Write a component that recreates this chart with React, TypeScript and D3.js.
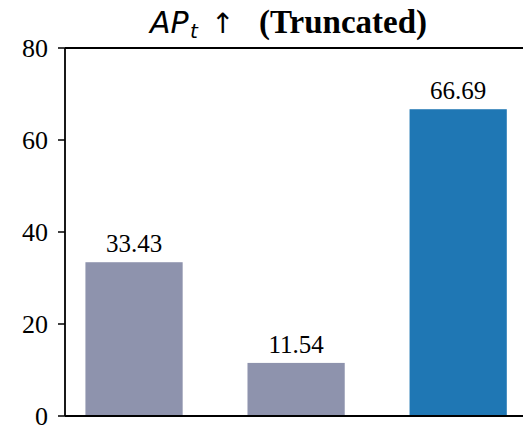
import React from "react";
import * as d3 from "d3";

const categories = ["A", "B", "C"];
const values = [33.43, 11.54, 66.69];
const barColors = ["#8e93ad", "#8e93ad", "#1f77b4"];
const yTicks = [0, 20, 40, 60, 80];

const W = 523;
const H = 429;

export default function App() {
  const x = d3.scaleLinear().domain([-0.426, 2.4]).range([65, 523]);
  const y = d3.scaleLinear().domain([0, 80]).range([416, 48]);
  const bw = x(0.6) - x(0);
  const serif = "'Liberation Serif', 'Times New Roman', serif";
  const sans = "'DejaVu Sans', sans-serif";
  return (
    <svg width={W} height={H} style={{ position: "absolute", left: 0, top: 0 }}>
      <rect width={W} height={H} fill="#fff" />
      {values.map((v, i) => (
        <g key={categories[i]}>
          <rect x={x(i) - bw / 2} y={y(v)} width={bw} height={y(0) - y(v)} fill={barColors[i]} />
          <text x={x(i)} y={y(v) - 10} textAnchor="middle" fontFamily={serif} fontSize={25} fill="#000">
            {v.toFixed(2)}
          </text>
        </g>
      ))}
      <line x1={65} x2={65} y1={48} y2={416} stroke="#000" strokeWidth={1.8} />
      <line x1={65} x2={523} y1={416} y2={416} stroke="#000" strokeWidth={1.8} />
      <line x1={65} x2={523} y1={48} y2={48} stroke="#000" strokeWidth={1.8} />
      {yTicks.map((t) => (
        <g key={t}>
          <line x1={58} x2={65} y1={y(t)} y2={y(t)} stroke="#000" strokeWidth={1.5} />
          <text x={48} y={y(t) + 8.5} textAnchor="end" fontFamily={serif} fontSize={26} fill="#000">
            {t}
          </text>
        </g>
      ))}
      <text x={150} y={33} fontFamily={sans} fontStyle="italic" fontSize={30} fill="#000">AP</text>
      <text x={190} y={38} fontFamily={sans} fontStyle="italic" fontSize={20} fill="#000">t</text>
      <text x={211} y={33} fontFamily={sans} fontSize={28} fill="#000">↑</text>
      <text x={259} y={33} fontFamily={serif} fontWeight="bold" fontSize={33} fill="#000">(Truncated)</text>
    </svg>
  );
}
